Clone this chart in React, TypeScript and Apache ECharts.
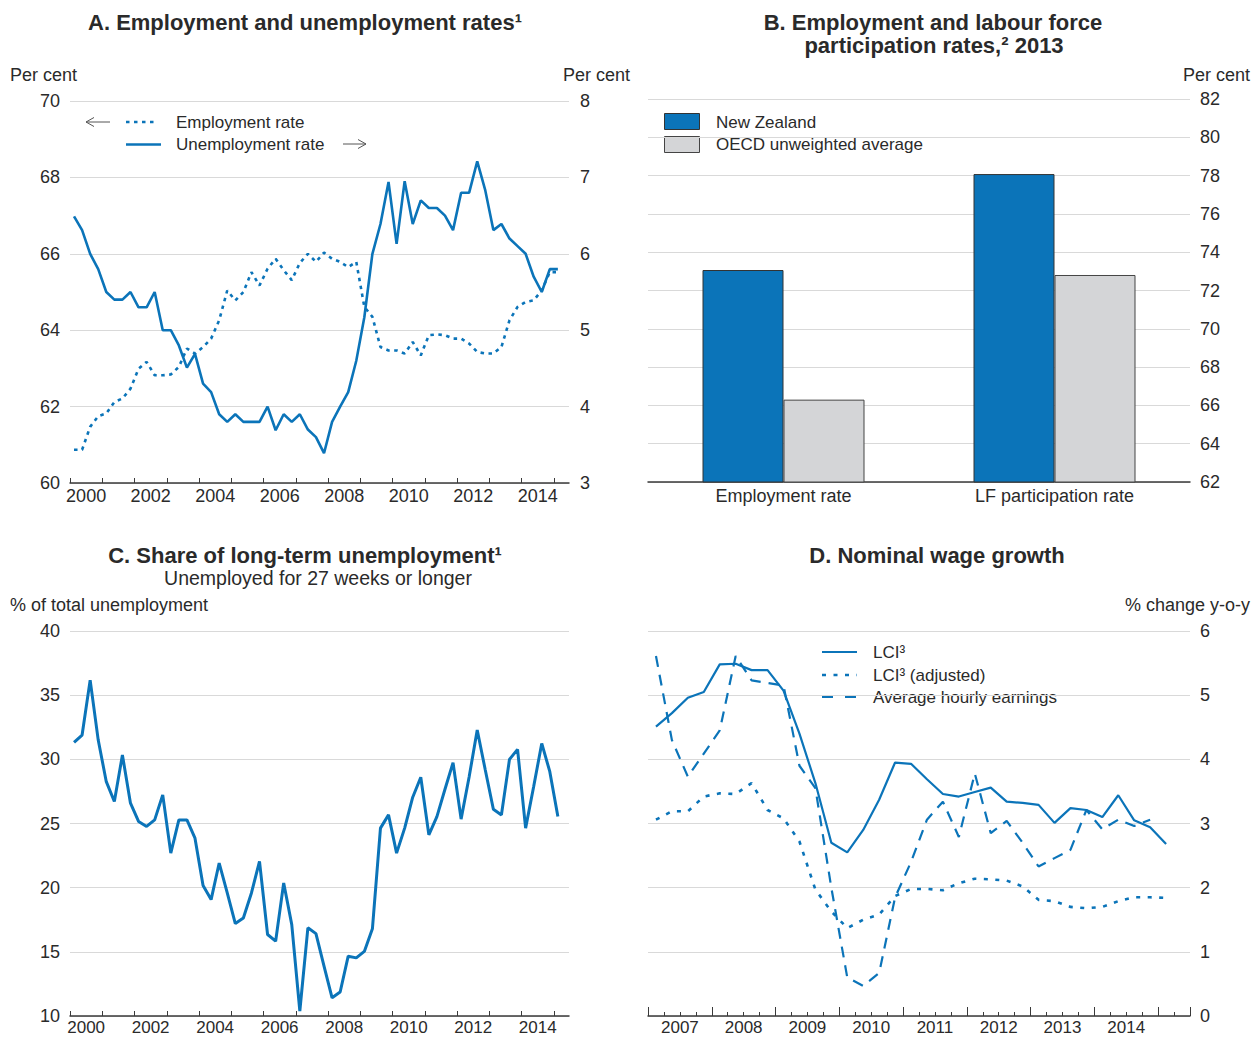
import React, { useEffect, useRef } from "react";
import * as echarts from "echarts";

// ---------------- DATA ----------------
// Panel A: quarterly, 2000-Q1 .. 2015-Q1
const unemploymentRate = [
  6.49, 6.31, 6.0, 5.8, 5.5, 5.4, 5.4, 5.5, 5.3, 5.3, 5.5, 5.0, 5.0, 4.8, 4.51, 4.69,
  4.3, 4.19, 3.9, 3.8, 3.9, 3.8, 3.8, 3.8, 4.0, 3.69, 3.9, 3.8, 3.9, 3.7, 3.6, 3.39,
  3.8, 4.0, 4.19, 4.6, 5.17, 6.0, 6.39, 6.94, 6.13, 6.95, 6.39, 6.7, 6.6, 6.6, 6.5, 6.31,
  6.8, 6.8, 7.21, 6.83, 6.31, 6.39, 6.2, 6.1, 6.0, 5.7, 5.5, 5.8, 5.8,
];
const employmentRate = [
  60.87, 60.87, 61.47, 61.75, 61.82, 62.12, 62.21, 62.47, 62.99, 63.17, 62.82, 62.82,
  62.84, 63.04, 63.52, 63.39, 63.56, 63.78, 64.26, 65.04, 64.78, 65.0, 65.52, 65.17,
  65.61, 65.87, 65.57, 65.31, 65.76, 66.0, 65.79, 66.03, 65.87, 65.79, 65.65, 65.79,
  64.61, 64.35, 63.56, 63.47, 63.47, 63.39, 63.69, 63.34, 63.87, 63.89, 63.87, 63.78,
  63.78, 63.65, 63.43, 63.39, 63.39, 63.56, 64.26, 64.61, 64.74, 64.78, 65.04, 65.52, 65.52,
];
const yearLabelsA = ["2000", "2002", "2004", "2006", "2008", "2010", "2012", "2014"];
const yearTicksA = ["2000", "2001", "2002", "2003", "2004", "2005", "2006", "2007", "2008", "2009", "2010", "2011", "2012", "2013", "2014", "2015"];

// Panel B: 2013
const categoriesB = ["Employment rate", "LF participation rate"];
const newZealandB = [73.07, 78.08];
const oecdAverageB = [66.3, 72.81];

// Panel C: quarterly, 2000-Q1 .. 2015-Q1
const longTermShare = [
  31.32, 31.89, 36.17, 31.5, 28.26, 26.71, 30.34, 26.58, 25.16, 24.77,
  25.28, 27.23, 22.69, 25.28, 25.28, 23.86, 20.16, 19.07, 21.92, 19.59,
  17.2, 17.64, 19.59, 22.05, 16.35, 15.83, 20.36, 17.12, 10.39, 16.87,
  16.42, 13.89, 11.42, 11.87, 14.66, 14.53, 15.03, 16.79, 24.64, 25.67,
  22.69, 24.64, 27.05, 28.6, 24.12, 25.54, 27.67, 29.74, 25.34, 28.65,
  32.28, 29.17, 26.11, 25.67, 30.0, 30.78, 24.64, 27.88, 31.24, 29.04, 25.54,
];

// Panel D: quarterly, 2007-Q1 .. 2015-Q1
const lci = [
  4.51, 4.72, 4.96, 5.05, 5.48, 5.49, 5.39, 5.39, 5.07, 4.4, 3.63, 2.7,
  2.55, 2.9, 3.37, 3.95, 3.93, 3.69, 3.46, 3.42, 3.49, 3.56, 3.34, 3.32,
  3.29, 3.01, 3.24, 3.21, 3.1, 3.44, 3.05, 2.94, 2.68,
];
const lciAdjusted = [
  3.06, 3.19, 3.19, 3.42, 3.47, 3.46, 3.63, 3.21, 3.08, 2.72, 1.97, 1.63,
  1.37, 1.5, 1.58, 1.87, 1.98, 1.98, 1.96, 2.07, 2.14, 2.13, 2.11, 2.02,
  1.81, 1.79, 1.7, 1.68, 1.7, 1.79, 1.85, 1.85, 1.84,
];
const avgHourlyEarnings = [
  5.61, 4.3, 3.73, 4.09, 4.45, 5.61, 5.23, 5.19, 5.15, 3.9, 3.55, 2.0,
  0.6, 0.47, 0.67, 1.85, 2.4, 3.06, 3.34, 2.79, 3.78, 2.85, 3.04, 2.7,
  2.33, 2.46, 2.59, 3.21, 2.91, 3.06, 2.96, 3.06,
];
const yearLabelsD = ["2007", "2008", "2009", "2010", "2011", "2012", "2013", "2014"];

// ---------------- HELPERS ----------------
function quarters(startYear: number, count: number): string[] {
  const out: string[] = [];
  for (let i = 0; i < count; i++) out.push(`${startYear + Math.floor(i / 4)}-Q${(i % 4) + 1}`);
  return out;
}
function quarterPos(label: string): number {
  const [y, q] = label.split("-Q");
  return Number(y) + (Number(q) - 0.5) / 4;
}
function pairs(qs: string[], vals: number[]) {
  return vals.map((v, i) => [quarterPos(qs[i]), v]);
}

const FONT = '"Liberation Sans", Arial, Helvetica, sans-serif';
const BLUE = "#0b74b9";
const GREY_BAR = "#d4d5d7";
const TEXT = "#2a2a2a";
const GRID_LINE = "#d9d9d9";
const AXIS = "#3a3a3a";

const quartersA = quarters(2000, unemploymentRate.length);
const quartersD = quarters(2007, lci.length);

const labelStyle = { color: TEXT, fontSize: 18, fontFamily: FONT };

function timeXAxis(gridIndex: number, min: number, max: number, labels: string[], extra: any, labelExtra: any = {}) {
  return {
    type: "value",
    gridIndex,
    min,
    max,
    axisLine: { show: true, onZero: false, lineStyle: { color: AXIS, width: 1.5 } },
    axisLabel: {
      ...labelStyle,
      margin: 4,
      customValues: labels.map((y) => Number(y) + 0.5),
      formatter: (v: number) => String(Math.floor(v)),
      ...labelExtra,
    },
    splitLine: { show: false },
    ...extra,
  };
}

function txt(x: number, y: number, text: string, opts: any = {}) {
  return {
    type: "text",
    x,
    y,
    silent: true,
    style: {
      text,
      fill: TEXT,
      fontFamily: FONT,
      fontSize: opts.size ?? 18,
      fontWeight: opts.bold ? "bold" : "normal",
      align: opts.align ?? "left",
      verticalAlign: "middle",
    },
  };
}
function seg(x1: number, y1: number, x2: number, y2: number, style: any) {
  return { type: "line", silent: true, shape: { x1, y1, x2, y2 }, style };
}

function buildOption(): any {
  const graphic: any[] = [
    // Titles
    txt(305, 22, "A. Employment and unemployment rates¹", { bold: true, size: 22, align: "center" }),
    txt(933, 22, "B. Employment and labour force", { bold: true, size: 22, align: "center" }),
    txt(934, 45, "participation rates,² 2013", { bold: true, size: 22, align: "center" }),
    txt(305, 555, "C. Share of long-term unemployment¹", { bold: true, size: 22, align: "center" }),
    txt(318, 578, "Unemployed for 27 weeks or longer", { size: 19.5, align: "center" }),
    txt(937, 555, "D. Nominal wage growth", { bold: true, size: 22, align: "center" }),
    // Axis unit labels
    txt(10, 75, "Per cent"),
    txt(630, 75, "Per cent", { align: "right" }),
    txt(1250, 75, "Per cent", { align: "right" }),
    txt(10, 605, "% of total unemployment"),
    txt(1250, 605, "% change y-o-y", { align: "right" }),
    // Legend A
    seg(86, 122, 110, 122, { stroke: "#555", lineWidth: 1 }),
    { type: "polyline", silent: true, shape: { points: [[94, 117.5], [86, 122], [94, 126.5]] }, style: { stroke: "#555", lineWidth: 1, fill: null } },
    seg(126, 122, 156, 122, { stroke: BLUE, lineWidth: 2.6, lineDash: [3.5, 4.5] }),
    txt(176, 122, "Employment rate", { size: 17 }),
    seg(126, 144.5, 161, 144.5, { stroke: BLUE, lineWidth: 2.6 }),
    txt(176, 144, "Unemployment rate", { size: 17 }),
    seg(343, 144, 366, 144, { stroke: "#555", lineWidth: 1 }),
    { type: "polyline", silent: true, shape: { points: [[358, 139.5], [366, 144], [358, 148.5]] }, style: { stroke: "#555", lineWidth: 1, fill: null } },
    // Legend B
    { type: "rect", silent: true, shape: { x: 664.5, y: 113.5, width: 35, height: 16 }, style: { fill: BLUE, stroke: "#333", lineWidth: 1 } },
    txt(716, 122, "New Zealand", { size: 17 }),
    { type: "rect", silent: true, shape: { x: 664.5, y: 136.5, width: 35, height: 16 }, style: { fill: GREY_BAR, stroke: "#444", lineWidth: 1 } },
    txt(716, 144, "OECD unweighted average", { size: 17 }),
    // Legend D
    seg(822, 652, 857, 652, { stroke: BLUE, lineWidth: 2.2 }),
    txt(873, 652, "LCI³", { size: 17 }),
    seg(822, 675, 857, 675, { stroke: BLUE, lineWidth: 2.6, lineDash: [4, 7.5] }),
    txt(873, 675, "LCI³ (adjusted)", { size: 17 }),
    seg(822, 697, 857, 697, { stroke: BLUE, lineWidth: 2.2, lineDash: [11, 12] }),
    txt(873, 697, "Average hourly earnings", { size: 17 }),
  ];

  const splitLine = { show: true, lineStyle: { color: GRID_LINE, width: 1.2 } };
  const noLine = { show: false };
  const bottomLabel = { fontSize: 17, lineHeight: 17, margin: 3 };

  return {
    animation: false,
    backgroundColor: "#ffffff",
    textStyle: { fontFamily: FONT },
    grid: [
      { left: 70, top: 101, width: 499, height: 382, outerBoundsMode: "none" },
      { left: 648, top: 99, width: 542, height: 383, outerBoundsMode: "none" },
      { left: 70, top: 631, width: 499, height: 385, outerBoundsMode: "none" },
      { left: 648, top: 631, width: 542, height: 385, outerBoundsMode: "none" },
    ],
    xAxis: [
      timeXAxis(0, 2000, 2015.47, yearLabelsA, {
        axisTick: { show: true, inside: true, length: 5, customValues: yearTicksA.map(Number), lineStyle: { color: AXIS, width: 1 } },
      }),
      {
        type: "category",
        gridIndex: 1,
        data: categoriesB,
        axisLine: { show: true, onZero: false, lineStyle: { color: AXIS, width: 1.5 } },
        axisTick: { show: false },
        axisLabel: { ...labelStyle, margin: 5 },
        splitLine: { show: false },
      },
      timeXAxis(2, 2000, 2015.47, yearLabelsA, {
        axisTick: { show: true, inside: true, length: 5, customValues: yearTicksA.map(Number), lineStyle: { color: AXIS, width: 1 } },
      }, bottomLabel),
      timeXAxis(3, 2007, 2015.5, yearLabelsD, {
        interval: 1,
        axisTick: { show: true, inside: true, length: 9, lineStyle: { color: AXIS, width: 1 } },
        minorTick: { show: true, splitNumber: 4, length: 4, lineStyle: { color: AXIS, width: 1 } },
        minorSplitLine: { show: false },
      }, bottomLabel),
    ],
    yAxis: [
      { type: "value", gridIndex: 0, position: "left", min: 60, max: 70, interval: 2, axisLine: noLine, axisTick: noLine, axisLabel: { ...labelStyle, margin: 10 }, splitLine },
      { type: "value", gridIndex: 0, position: "right", min: 3, max: 8, interval: 1, axisLine: noLine, axisTick: noLine, axisLabel: { ...labelStyle, margin: 11 }, splitLine: noLine },
      { type: "value", gridIndex: 1, position: "right", min: 62, max: 82, interval: 2, axisLine: noLine, axisTick: noLine, axisLabel: { ...labelStyle, margin: 10 }, splitLine },
      { type: "value", gridIndex: 2, position: "left", min: 10, max: 40, interval: 5, axisLine: noLine, axisTick: noLine, axisLabel: { ...labelStyle, margin: 10 }, splitLine },
      { type: "value", gridIndex: 3, position: "right", min: 0, max: 6, interval: 1, axisLine: noLine, axisTick: noLine, axisLabel: { ...labelStyle, margin: 10 }, splitLine },
    ],
    series: [
      {
        name: "Employment rate",
        type: "line",
        xAxisIndex: 0,
        yAxisIndex: 0,
        data: pairs(quartersA, employmentRate),
        showSymbol: false,
        silent: true,
        lineStyle: { color: BLUE, width: 2.6, type: [3.5, 4.5], cap: "butt" },
      },
      {
        name: "Unemployment rate",
        type: "line",
        xAxisIndex: 0,
        yAxisIndex: 1,
        data: pairs(quartersA, unemploymentRate),
        showSymbol: false,
        silent: true,
        lineStyle: { color: BLUE, width: 2.6 },
      },
      {
        name: "New Zealand",
        type: "bar",
        xAxisIndex: 1,
        yAxisIndex: 2,
        data: newZealandB,
        barWidth: 81,
        barGap: "0%",
        silent: true,
        itemStyle: { color: BLUE, borderColor: "#333", borderWidth: 1 },
      },
      {
        name: "OECD unweighted average",
        type: "bar",
        xAxisIndex: 1,
        yAxisIndex: 2,
        data: oecdAverageB,
        barWidth: 81,
        barGap: "0%",
        silent: true,
        itemStyle: { color: GREY_BAR, borderColor: "#444", borderWidth: 1 },
      },
      {
        name: "Long-term unemployment share",
        type: "line",
        xAxisIndex: 2,
        yAxisIndex: 3,
        data: pairs(quartersA, longTermShare),
        showSymbol: false,
        silent: true,
        lineStyle: { color: BLUE, width: 3 },
      },
      {
        name: "LCI",
        type: "line",
        xAxisIndex: 3,
        yAxisIndex: 4,
        data: pairs(quartersD, lci),
        showSymbol: false,
        silent: true,
        lineStyle: { color: BLUE, width: 2.2 },
      },
      {
        name: "LCI (adjusted)",
        type: "line",
        xAxisIndex: 3,
        yAxisIndex: 4,
        data: pairs(quartersD, lciAdjusted),
        showSymbol: false,
        silent: true,
        lineStyle: { color: BLUE, width: 2.6, type: [4, 7.5], cap: "butt" },
      },
      {
        name: "Average hourly earnings",
        type: "line",
        xAxisIndex: 3,
        yAxisIndex: 4,
        data: pairs(quartersD, avgHourlyEarnings),
        showSymbol: false,
        silent: true,
        lineStyle: { color: BLUE, width: 2.2, type: [11, 8], cap: "butt" },
      },
    ],
    graphic,
  };
}

export default function App() {
  const ref = useRef<HTMLDivElement>(null);
  useEffect(() => {
    document.body.style.margin = "0";
    const chart = echarts.init(ref.current!, null, { renderer: "svg" });
    chart.setOption(buildOption());
    return () => chart.dispose();
  }, []);
  return <div ref={ref} style={{ width: 1251, height: 1038 }} />;
}
